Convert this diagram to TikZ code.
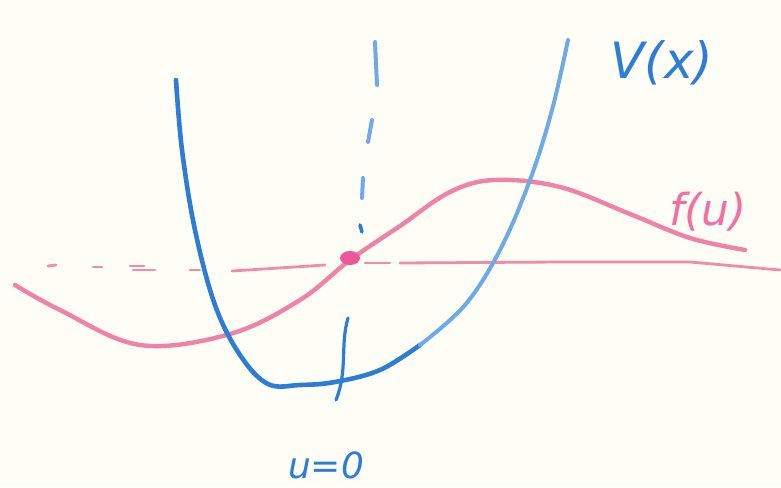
\documentclass[tikz,border=0pt]{standalone}
\usepackage{fontspec}
\setmainfont{DejaVu Sans}
\definecolor{paper}{RGB}{255,254,246}
\definecolor{blueA}{RGB}{45,125,215}
\definecolor{blueL}{RGB}{110,170,230}
\definecolor{pinkA}{RGB}{240,130,165}
\definecolor{pinkT}{RGB}{240,140,170}
\definecolor{pinkD}{RGB}{235,90,150}
\definecolor{pinkL}{RGB}{245,110,160}
\begin{document}
\begin{tikzpicture}[x=1pt,y=-1pt,
  bl/.style={draw=blueA, line width=4.6pt, line cap=round, line join=round},
  lbl/.style={draw=blueL, line width=4pt, line cap=round},
  pk/.style={draw=pinkA, line width=4.4pt, line cap=round, line join=round},
  pkthin/.style={draw=pinkT, line width=2.8pt, line cap=round},
  lab/.style={font=\itshape, inner sep=0pt}]
\fill[paper] (0,0) rectangle (781,487);
\useasboundingbox (0,0) rectangle (781,487);
% horizontal dashed/solid line
\draw[pkthin] (48,266) -- (56,265);
\draw[pkthin] (93,267) -- (102,267);
\draw[pkthin] (130,266) -- (144,266);
\draw[pkthin] (133,270) -- (155,270);
\draw[pkthin] (190,270) -- (200,270);
\draw[pkthin] (232,271) -- (325,265);
\draw[pkthin] (365,263) -- (390,263);
\draw[pkthin] (400,263) -- (560,262) -- (690,262) -- (780,270);
% f(u)
\draw[pk] plot[smooth, tension=0.6] coordinates {(15,285) (60,310) (140,345) (230,334) (300,300) (350,260) (400,226) (450,192) (495,180) (560,187) (630,214) (690,238) (745,250)};
\fill[pinkD] (350,258) ellipse (10 and 7);
% V(x)
\draw[bl] plot[smooth, tension=0.6] coordinates {(176,80) (182,150) (195,230) (215,305) (240,355) (268,384) (300,385) (335,382) (380,370) (420,345)};
\draw[lbl] plot[smooth, tension=0.6] coordinates {(420,345) (465,305) (500,250) (530,180) (552,110) (568,40)};
% vertical dashed
\draw[lbl] (375,42) -- (377,85);
\draw[lbl] (372,120) -- (368,142);
\draw[lbl] (363,178) -- (362,198);
\draw[bl, line width=3.6pt] (360,225) -- (362,232);
\draw[bl, line width=3.2pt] (348,318) .. controls (340,345) and (348,370) .. (336,400);
% labels
\node[lab, text=blueA, font=\itshape\fontsize{50}{54}\selectfont] (V) at (662,63) {V(x)};
\node[lab, text=pinkL, font=\itshape\fontsize{44}{48}\selectfont] (f) at (708,212) {f(u)};
\node[lab, text=blueA, font=\itshape\fontsize{36}{40}\selectfont] (u) at (326,465) {u=0};
\end{tikzpicture}
\end{document}
